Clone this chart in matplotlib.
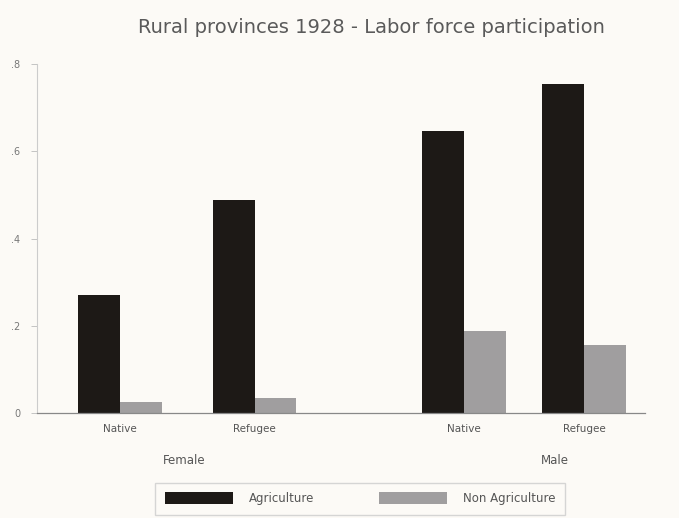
import matplotlib.pyplot as plt
import numpy as np

# values
groups = ['Female', 'Male']
origins = ['Native', 'Refugee', 'Native', 'Refugee']
agriculture = [0.270, 0.488, 0.646, 0.754]
non_agriculture = [0.025, 0.034, 0.188, 0.156]
yticks = [0, 0.2, 0.4, 0.6, 0.8]
ytick_labels = ['0', '.2', '.4', '.6', '.8']

bg = '#fcfaf6'
dark = '#1d1916'
grey = '#a09e9f'

fig = plt.figure(figsize=(6.79, 5.18), dpi=100, facecolor=bg)
ax = fig.add_axes([0.0545, 0.203, 0.895, 0.673], facecolor=bg)

centers = np.array([1.98, 5.19, 10.19, 13.05])
w = 1.0
ax.bar(centers - w / 2, agriculture, w, color=dark, label='Agriculture')
ax.bar(centers + w / 2, non_agriculture, w, color=grey, label='Non Agriculture')

ax.set_xlim(0, 14.5)
ax.set_ylim(0, 0.8)
ax.set_yticks(yticks)
ax.set_yticklabels(ytick_labels, fontsize=7, color='#777777')
ax.tick_params(axis='y', length=4, width=0.6, color='#bbbbbb', pad=8)
ax.set_xticks(centers)
ax.set_xticklabels(origins, fontsize=7.5, color='#555555')
ax.tick_params(axis='x', length=0, pad=8)
for s in ['top', 'right']:
    ax.spines[s].set_visible(False)
ax.spines['left'].set_color('#cccccc')
ax.spines['bottom'].set_color('#888888')
ax.spines['left'].set_linewidth(0.8)
ax.spines['bottom'].set_linewidth(0.9)

# group labels under the pairs
ax.text(3.5, -0.11, groups[0], fontsize=8.5, color='#555555', ha='center', va='center')
ax.text(12.35, -0.11, groups[1], fontsize=8.5, color='#555555', ha='center', va='center')

fig.text(0.547, 0.946, 'Rural provinces 1928 - Labor force participation',
         ha='center', va='center', fontsize=14, color='#5a5a5a')

leg = fig.legend(loc='upper center', bbox_to_anchor=(0.53, 0.068), ncol=2,
                 fontsize=8.5, frameon=True, fancybox=False, edgecolor='#cccccc',
                 facecolor=bg, handlelength=5.8, handleheight=1.2,
                 handletextpad=1.3, columnspacing=5.5, borderpad=0.8,
                 borderaxespad=0)
for t in leg.get_texts():
    t.set_color('#555555')

fig.savefig('out.png', dpi=100, facecolor=bg)
